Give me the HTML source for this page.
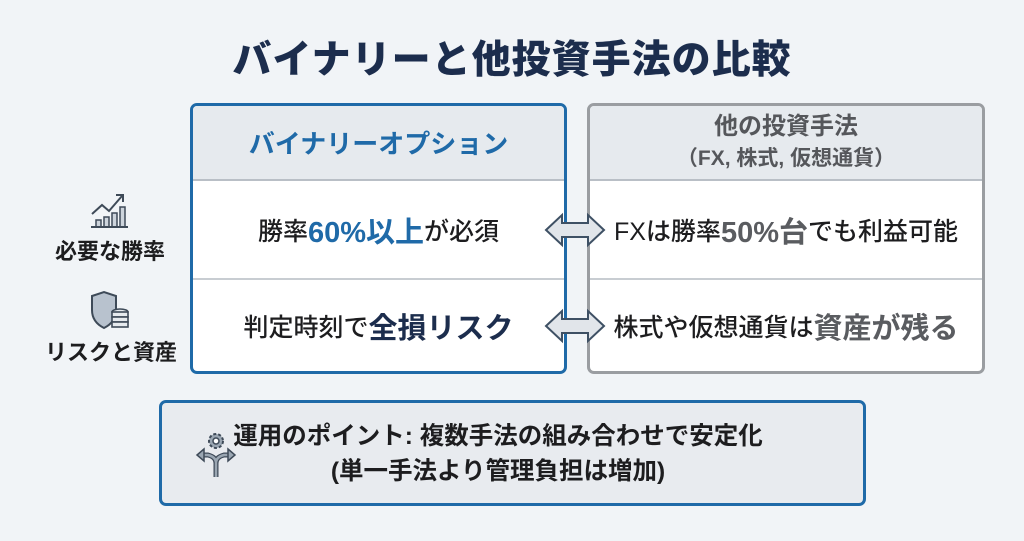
<!DOCTYPE html>
<html><head><meta charset="utf-8"><style>
*{margin:0;padding:0;box-sizing:border-box}
body{width:1024px;height:541px;background:#f1f4f7;font-family:"Liberation Sans","Noto Sans CJK JP",sans-serif;position:relative;overflow:hidden;color:#1d1d1f}
.a{position:absolute}
.t{position:absolute;left:0;width:1024px;top:29px;text-align:center;font-size:39px;font-weight:900;color:#1c2d4d;letter-spacing:1px}
.box{position:absolute;border-radius:7px;background:#fff;overflow:hidden}
.hd{position:absolute;left:0;right:0;top:0;height:75px;background:#e6eaee;border-bottom:2px solid #b9bfc6;display:flex;flex-direction:column;align-items:center;justify-content:center;font-weight:bold}
.row{position:absolute;left:0;right:0;height:98px;display:flex;align-items:center;justify-content:center;font-size:25px;font-weight:500}
.b{color:#1f6aa8;font-weight:bold;font-size:29px}
.g{color:#5a5c60;font-weight:bold;font-size:29px}
.lab{position:absolute;font-size:22px;font-weight:bold;text-align:center;width:150px}
</style></head><body>
<div class="t">バイナリーと他投資手法の比較</div>

<div class="box" style="left:190px;top:103px;width:377px;height:271px;border:3px solid #1f6aa8">
 <div class="hd" style="color:#1f6aa8;font-size:26px">バイナリーオプション</div>
 <div class="row" style="top:75px">勝率<span class="b">60%以上</span>が必須</div>
 <div class="a" style="left:0;right:0;top:172px;border-top:2px solid #c8cdd2"></div>
 <div class="row" style="top:174px;height:92px">判定時刻で<span class="b" style="color:#1c2d4d">全損リスク</span></div>
</div>

<div class="box" style="left:587px;top:103px;width:398px;height:271px;border:3px solid #9a9da1">
 <div class="hd" style="color:#55575b;font-size:24px;line-height:32px">他の投資手法<span style="font-size:21px">（FX, 株式, 仮想通貨）</span></div>
 <div class="row" style="top:75px">FXは勝率<span class="g">50%台</span>でも利益可能</div>
 <div class="a" style="left:0;right:0;top:172px;border-top:2px solid #c8cdd2"></div>
 <div class="row" style="top:174px;height:92px">株式や仮想通貨は<span class="g">資産が残る</span></div>
</div>

<svg class="a" style="left:544px;top:212px" width="62" height="36"><path d="M2 18 L18 3 L18 11 L44 11 L44 3 L60 18 L44 33 L44 25 L18 25 L18 33 Z" fill="#e1e5ea" stroke="#3e5064" stroke-width="2"/></svg>
<svg class="a" style="left:544px;top:308px" width="62" height="36"><path d="M2 18 L18 3 L18 11 L44 11 L44 3 L60 18 L44 33 L44 25 L18 25 L18 33 Z" fill="#e1e5ea" stroke="#3e5064" stroke-width="2"/></svg>

<svg class="a" style="left:88px;top:190px" width="40" height="40"><path d="M4 24 L14 15 L21 21 L34 6" fill="none" stroke="#3e4a58" stroke-width="2"/><path d="M28 5 L35 5 L35 12" fill="none" stroke="#3e4a58" stroke-width="2"/><g fill="#cdd4dc" stroke="#3e4a58" stroke-width="1.5"><rect x="8" y="30" width="5" height="7"/><rect x="16" y="27" width="5" height="10"/><rect x="24" y="23" width="5" height="14"/><rect x="32" y="17" width="5" height="20"/></g><line x1="3" y1="37" x2="40" y2="37" stroke="#3e4a58" stroke-width="2"/></svg>
<div class="lab" style="left:35px;top:234px">必要な勝率</div>
<svg class="a" style="left:88px;top:290px" width="44" height="42"><path d="M4 6 L16 2 L28 6 L28 20 Q28 32 16 38 Q4 32 4 20 Z" fill="#b8c2ce" stroke="#3e4a58" stroke-width="2"/><g fill="#e6eaee" stroke="#3e4a58" stroke-width="1.6"><ellipse cx="32" cy="22" rx="8" ry="3"/><rect x="24" y="22" width="16" height="5"/><rect x="24" y="27" width="16" height="5"/><rect x="24" y="32" width="16" height="5"/></g></svg>
<div class="lab" style="left:36px;top:335px">リスクと資産</div>

<div class="box" style="left:159px;top:400px;width:707px;height:106px;border:3px solid #1f6aa8;background:#e8ebef">
 <svg class="a" style="left:32px;top:26px" width="44" height="52"><circle cx="22" cy="12" r="7" fill="#9aa6b2" stroke="#3e4a58" stroke-width="2" stroke-dasharray="3 2"/><circle cx="22" cy="12" r="3" fill="#fff" stroke="#3e4a58" stroke-width="1.5"/><path d="M22 48 L22 34 Q22 28 14 26 L8 26 M22 34 Q22 28 30 26 L36 26" fill="none" stroke="#3e4a58" stroke-width="5"/><path d="M22 48 L22 34 Q22 28 14 26 L8 26 M22 34 Q22 28 30 26 L36 26" fill="none" stroke="#9aa6b2" stroke-width="2.5"/><path d="M10 20 L3 26 L10 32 Z M34 20 L41 26 L34 32 Z" fill="#9aa6b2" stroke="#3e4a58" stroke-width="1.5"/></svg>
 <div class="a" style="left:36px;width:600px;top:16px;text-align:center;font-size:24.5px;font-weight:bold;line-height:35px">運用のポイント: 複数手法の組み合わせで安定化<br>(単一手法より管理負担は増加)</div>
</div>
</body></html>
